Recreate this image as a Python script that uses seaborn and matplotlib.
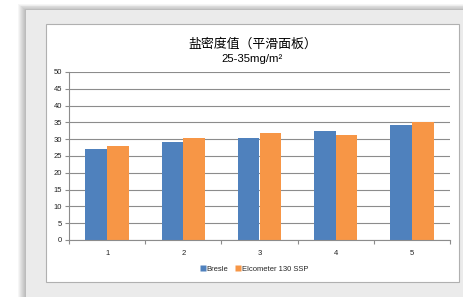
import matplotlib
matplotlib.use("Agg")
import matplotlib.pyplot as plt
import seaborn as sns
import pandas as pd
import numpy as np
from matplotlib.patches import Rectangle
from matplotlib.lines import Line2D

categories = ["1", "2", "3", "4", "5"]
bresle = [27.0, 29.3, 30.4, 32.3, 34.1]
elcometer = [28.0, 30.4, 31.9, 31.3, 35.1]
series_names = ["Bresle", "Elcometer 130 SSP"]
yticks = [0, 5, 10, 15, 20, 25, 30, 35, 40, 45, 50]

df = pd.DataFrame({
    "cat": categories * 2,
    "val": bresle + elcometer,
    "series": [series_names[0]] * 5 + [series_names[1]] * 5,
})

sns.set_theme(style="white")
plt.rcParams['font.family'] = ['Liberation Sans', 'Noto Sans CJK SC', 'DejaVu Sans']

W, H = 464, 297
fig = plt.figure(figsize=(W / 100, H / 100), dpi=100)
fig.patch.set_facecolor("white")

def fx(x): return x / W
def fy(y): return 1 - y / H

def rect(x0, y0, x1, y1, **kw):
    fig.patches.append(Rectangle((fx(x0), fy(y1)), (x1 - x0) / W, (y1 - y0) / H,
                                 transform=fig.transFigure, **kw))

# soft shadow around outer panel (left and top)
for i in range(8):
    a = 0.035
    rect(26 - 8 + i, 10 - 6 + i * 0.75, W, H, facecolor="black", alpha=a, edgecolor="none", zorder=-5)
# outer gray panel
rect(26, 10, W, H, facecolor="#ebebeb", edgecolor="none", zorder=-4)
# card
rect(46, 24, 459, 282, facecolor="white", edgecolor="#b0b0b0", linewidth=0.8, zorder=-1)

ax = fig.add_axes([fx(69), fy(240), fx(450 - 69), (240 - 72) / H])
ax.set_facecolor("none")
sns.barplot(data=df, x="cat", y="val", hue="series", palette=["#4f81bd", "#f79646"],
            width=0.57, ax=ax, legend=False, saturation=1, edgecolor="none")

ax.set_ylim(0, 50)
ax.set_xlim(-0.5, 4.5)
ax.set_yticks(yticks)
ax.set_yticklabels([str(t) for t in yticks], fontsize=5.5, color="#222222")
ax.set_xticks(range(5))
ax.set_xticklabels(categories, fontsize=5.5, color="#222222")
ax.yaxis.grid(True, color="#8c8c8c", linewidth=0.8)
ax.set_axisbelow(True)
ax.set_xlabel("")
ax.set_ylabel("")
for s in ["top", "right"]:
    ax.spines[s].set_visible(False)
for s in ["left", "bottom"]:
    ax.spines[s].set_color("#8c8c8c")
    ax.spines[s].set_linewidth(0.8)
ax.tick_params(axis="y", which="major", length=3, width=0.8, color="#8c8c8c", pad=2, left=True)
ax.tick_params(axis="x", which="major", length=0, pad=7)
ax.set_xticks(np.arange(-0.5, 5.0, 1.0), minor=True)
ax.tick_params(axis="x", which="minor", length=3, width=0.8, color="#8c8c8c", bottom=True)

fig.text(fx(252.5), fy(44), "盐密度值（平滑面板）", ha="center", va="center", fontsize=9.3,
         family=['Noto Sans CJK SC', 'DejaVu Sans'], color="black", weight="medium")
fig.text(fx(252.5), fy(59), "25-35mg/m²", ha="center", va="center", fontsize=8.2,
         family=['Liberation Sans', 'DejaVu Sans'], color="black")

handles = [Line2D([0], [0], marker="s", linestyle="none", markersize=4, markerfacecolor=c,
                  markeredgecolor="none") for c in ["#4f81bd", "#f79646"]]
fig.legend(handles, series_names, loc="center", bbox_to_anchor=(fx(254), fy(269)), ncol=2,
           frameon=False, fontsize=5.5, handletextpad=0.1, columnspacing=0.8, handlelength=0.8)

fig.savefig("out.png", dpi=100, facecolor=fig.get_facecolor())
